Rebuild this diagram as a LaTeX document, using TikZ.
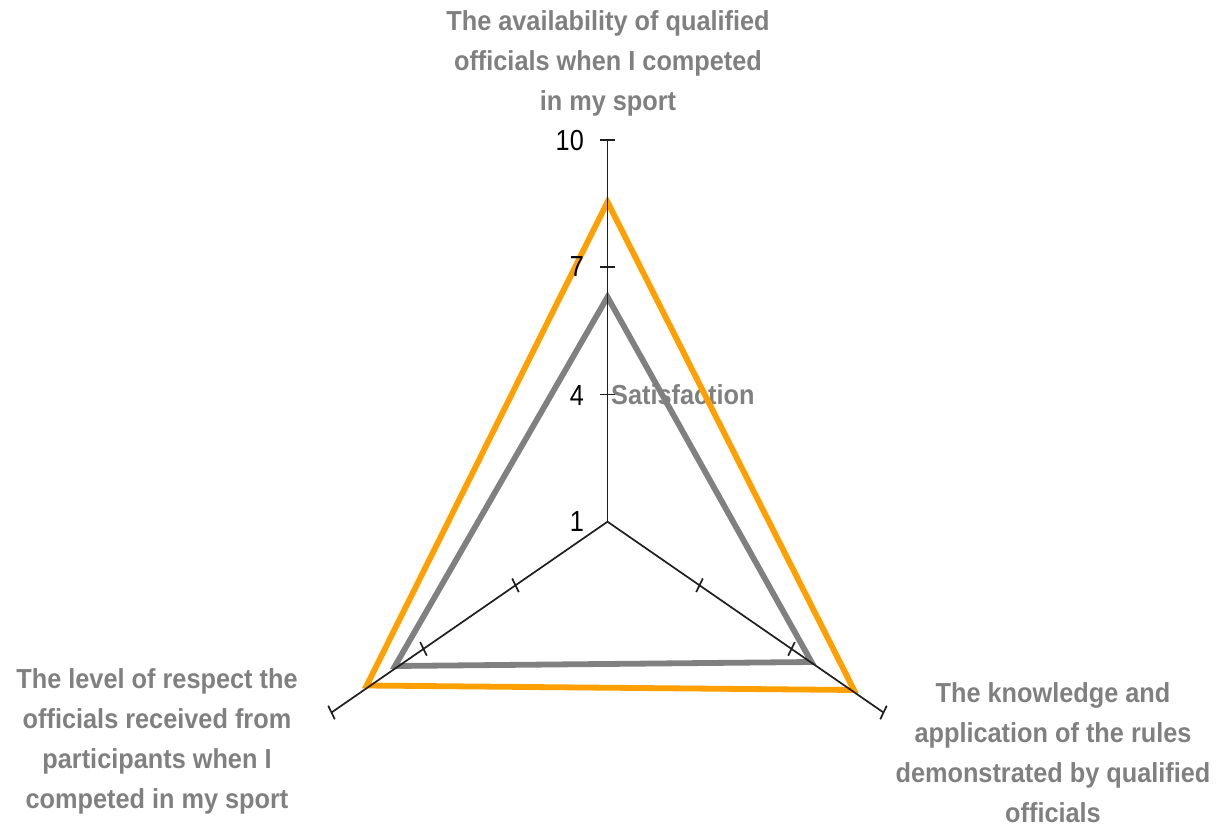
\documentclass[tikz,border=0pt]{standalone}
\usepackage{fontspec}
\usetikzlibrary{calc}
\setmainfont{Liberation Sans}
\newfontfamily\labfont[FakeStretch=0.92]{Liberation Sans}
\newfontfamily\numfont[FakeStretch=0.87]{Liberation Sans}
\definecolor{orng}{RGB}{255,160,0}
\definecolor{gry}{RGB}{128,128,128}
\definecolor{axc}{RGB}{30,30,30}
\begin{document}
\begin{tikzpicture}[x=1pt,y=-1pt,
  axisline/.style={draw=axc, line width=1.7pt},
  series/.style={line width=5.8pt, line join=miter},
  cat/.style={text=gry, font=\labfont\bfseries\fontsize{27.5}{40}\selectfont, align=center, inner sep=0pt},
  num/.style={font=\numfont\fontsize{29}{29}\selectfont, anchor=east, inner sep=0pt}]
\useasboundingbox (0,0) rectangle (1216,827);

% category labels
\node[cat] (ttop) at (608,63) {The availability of qualified\\officials when I competed\\in my sport};
\node[cat] (tleft) at (157,741) {The level of respect the\\officials received from\\participants when I\\competed in my sport};
\node[cat] (tright) at (1053,753) {The knowledge and\\application of the rules\\demonstrated by qualified\\officials};
\node[cat, anchor=west] (sat) at (611,395) {Satisfaction};

% series
\coordinate (O1) at (607.5,202);
\coordinate (O2) at (854,690);
\coordinate (O3) at (366.7,685.5);
\coordinate (G1) at (607.5,297);
\coordinate (G2) at (811.5,662);
\coordinate (G3) at (395,666);
\draw[series, draw=orng] (O1) -- (O2) -- (O3) -- cycle;
\draw[series, draw=gry] (G1) -- (G2) -- (G3) -- cycle;

% tick labels
\node[num] (n10) at (584,141) {10};
\node[num] (n7) at (584,267) {7};
\node[num] (n4) at (584,396) {4};
\node[num] (n1) at (584,521.5) {1};

% axes
\coordinate (C) at (607.5,521.7);
\coordinate (T) at (607.5,140);
\coordinate (R) at (883.5,712.5);
\coordinate (L) at (331.5,712.5);
\draw[axisline] (C) -- (T);
\draw[axisline] (C) -- (R);
\draw[axisline] (C) -- (L);
\foreach \k in {1,2,3}{
  \draw[axisline] ($(C)+(0,-127.2*\k)+(-7.5,0)$) -- ++(15,0);
  \draw[axisline] ($(C)+(92*\k,63.6*\k)+(3.3,-6.8)$) -- ++(-6.6,13.6);
  \draw[axisline] ($(C)+(-92*\k,63.6*\k)+(-3.3,-6.8)$) -- ++(6.6,13.6);
}
\end{tikzpicture}
\end{document}
